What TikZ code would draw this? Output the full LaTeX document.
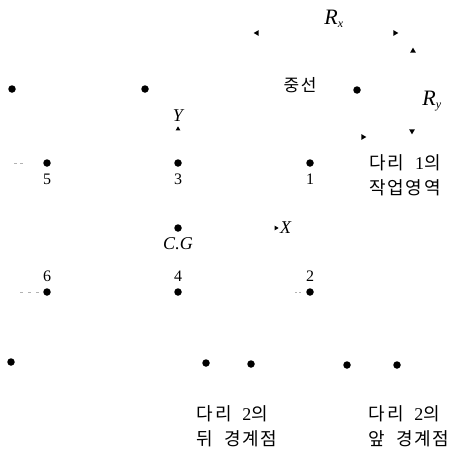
\documentclass[tikz,border=0pt]{standalone}
\usepackage{fontspec}
\setmainfont{Liberation Serif}
\newfontfamily\cjk[LetterSpace=10]{Noto Sans CJK KR}
\usetikzlibrary{shapes.geometric}
\begin{document}
\begin{tikzpicture}[x=1pt,y=-1pt,
  dot/.style={circle,fill=black,inner sep=0pt,minimum size=7.5pt},
  tipmark/.style={isosceles triangle,isosceles triangle apex angle=60,fill=black,inner sep=0pt,minimum height=5pt,minimum width=5pt},
  num/.style={inner sep=0pt,font=\fontsize{16}{16}\selectfont},
  ital/.style={inner sep=0pt,font=\fontsize{18}{18}\selectfont\itshape},
  big/.style={inner sep=0pt,font=\fontsize{22}{22}\selectfont\itshape},
  kor/.style={inner sep=0pt,align=center,font=\fontsize{18}{25}\selectfont\cjk},
  faint/.style={gray!60,line width=0.6pt}]
\useasboundingbox (0,0) rectangle (451,455);
% top row dots
\node[dot] (dtl) at (12,89) {};
\node[dot] (dtm) at (145,89) {};
\node[dot] (dtr) at (357,90) {};
% arrowheads round the centre line
\node[tipmark,shape border rotate=180] (al) at (257,33) {};
\node[tipmark] (ar) at (395,33) {};
\node[tipmark,shape border rotate=90] (au) at (413,51) {};
\node[tipmark,shape border rotate=270] (ad) at (412,131) {};
\node[tipmark] (ar2) at (363,137) {};
\node[big] (rx) at (334,19) {R\textsubscript{\fontsize{12}{12}\selectfont x}};
\node[big] (ry) at (432,101) {R\textsubscript{\fontsize{12}{12}\selectfont y}};
\node[kor,font=\fontsize{17}{17}\selectfont\cjk] (mid) at (300,85) {중선};
% axes
\node[ital] (ylab) at (178,116) {Y};
\node[tipmark,shape border rotate=90,minimum height=4pt,minimum width=4pt] (yt) at (178,129) {};
\node[tipmark,minimum height=4pt,minimum width=4pt] (xt) at (276,228) {};
\node[ital,anchor=west] (xlab) at (280,228) {X};
% legs 5 3 1
\node[dot] (p5) at (47,163) {};
\node[dot] (p3) at (178,163) {};
\node[dot] (p1) at (310,163) {};
\node[num] (l5) at (47,179) {5};
\node[num] (l3) at (178,179) {3};
\node[num] (l1) at (310,179) {1};
\coordinate (e5) at (14,163);
\draw[faint,dash pattern=on 3pt off 3pt] (e5) -- ++(9,0);
% C.G
\node[dot] (cg) at (178,228) {};
\node[ital] (cgl) at (178,244) {C.G};
% legs 6 4 2
\node[dot] (p6) at (47,292) {};
\node[dot] (p4) at (178,292) {};
\node[dot] (p2) at (310,292) {};
\node[num] (l6) at (47,276) {6};
\node[num] (l4) at (178,276) {4};
\node[num] (l2) at (310,276) {2};
\coordinate (e6) at (20,292);
\coordinate (e2) at (295,292);
\draw[faint,dash pattern=on 3pt off 5pt] (e6) -- (p6);
\draw[faint,dash pattern=on 2pt off 2pt] (e2) -- ++(7,0);
% labels right
\node[kor] (w1) at (405,175) {다리\hspace{5pt} {\rmfamily 1}의\\작업영역};
% bottom dots
\node[dot] (b1) at (11,362) {};
\node[dot] (b2) at (206,363) {};
\node[dot] (b3) at (251,364) {};
\node[dot] (b4) at (347,365) {};
\node[dot] (b5) at (397,365) {};
\node[kor,align=left] (bk) at (237,426) {다리\hspace{5pt} {\rmfamily 2}의\\뒤\hspace{5pt} 경계점};
\node[kor,align=left] (fr) at (409,426) {다리\hspace{5pt} {\rmfamily 2}의\\앞\hspace{5pt} 경계점};
\end{tikzpicture}
\end{document}
